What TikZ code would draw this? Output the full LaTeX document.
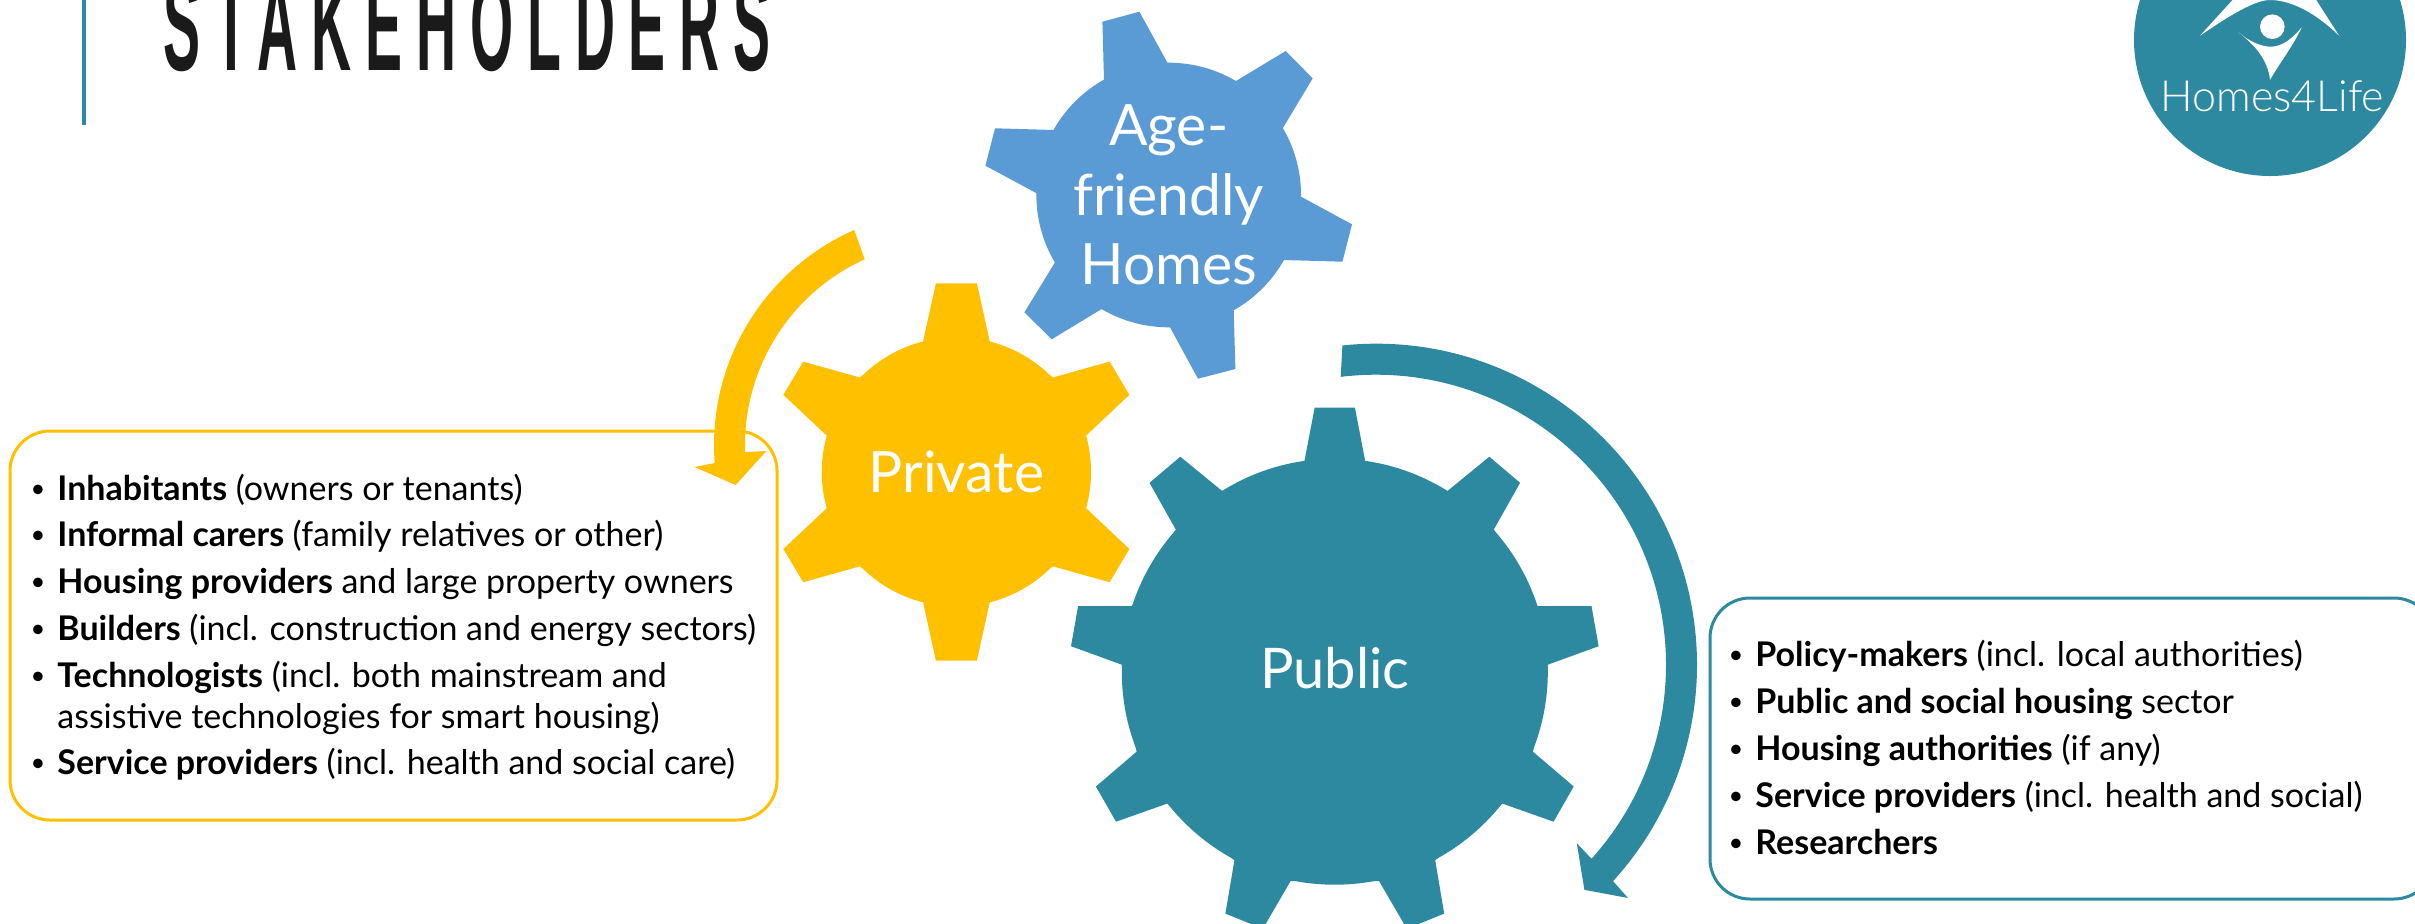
\documentclass[tikz,border=0pt]{standalone}
\usepackage{fontspec}
\usetikzlibrary{shapes.geometric}
\setmainfont{Lato}
\newfontfamily\titlefont{Liberation Sans}[FakeStretch=0.42,LetterSpace=10.5]
\newfontfamily\logofont{Lato Light}
\definecolor{tealc}{HTML}{2C89A0}
\definecolor{bluec}{HTML}{5B9BD5}
\definecolor{yellowc}{HTML}{FFC000}
\definecolor{inkc}{HTML}{1A1A1A}
\newcommand{\bul}{\llap{\raisebox{1.5pt}{\scalebox{0.75}{\textbullet}}\hspace{6pt}}}
\tikzset{
  itemline/.style={anchor=base west,inner sep=0pt,text=black,font=\fontsize{17}{20}\selectfont},
  geartext/.style={circle,inner sep=0pt,text=white,align=center},
  listbox/.style={rounded corners=20pt,line width=1.5pt,fill=white},
}
\begin{document}
\begin{tikzpicture}[x=0.5pt,y=0.5pt]
\clip (0,-923) rectangle (2415,0);
\fill[white] (0,-923) rectangle (2415,0);
% title
\fill[tealc] (82,0) rectangle (86,-125);
\node[anchor=base west,inner sep=0pt,text=inkc,font=\titlefont\bfseries\fontsize{66}{66}\selectfont] (title) at (163,-70) {STAKEHOLDERS};
% logo
\node[circle,fill=tealc,minimum size=136pt,inner sep=0pt] (logo) at (2270,-40) {};
\fill[white] (2200,-35.7) .. controls (2230,-15) and (2255,0) .. (2270,0) .. controls (2290,0) and (2315,-12) .. (2339.3,-36) -- (2313,5) -- (2237,5) -- cycle;
\node[circle,fill=white,minimum size=12.3pt,inner sep=0pt] (head) at (2272.3,-26.7) {};
\fill[white] (2238.3,-32.3) .. controls (2250,-42) and (2262,-47) .. (2272,-46.7) .. controls (2283,-46) and (2293,-38) .. (2301.7,-27.3) .. controls (2292,-48) and (2280,-62) .. (2270,-80) .. controls (2268,-60) and (2255,-45) .. cycle;
\node[anchor=base,inner sep=0pt,text=white,font=\logofont\fontsize{21.5}{21.5}\selectfont] (logotext) at (2272.5,-111.7) {Homes4Life};
% list boxes
\draw[listbox,draw=yellowc] (10,-431) rectangle (777,-820);
\draw[listbox,draw=tealc] (1710,-598) rectangle (2434,-899);
% blue gear
\fill[bluec,shift={(1168.7,-195)}] (-66.3,173.3) -- (-29.3,183.3) -- (-1.3,132.3) -- (67.3,114) -- (117,144) -- (144,116.7) -- (114,66.7) -- (132.3,-1.7) -- (183.3,-29.3) -- (173.7,-66.7) -- (115.3,-65) -- (65,-115) -- (66.7,-174) -- (29.3,-183.7) -- (1.3,-132.3) -- (-67,-114) -- (-117,-144.3) -- (-144.3,-117.3) -- (-113.7,-67.3) -- (-132,1.7) -- (-183.3,29.3) -- (-173.7,66.7) -- (-114.7,65) -- (-64.7,115) -- cycle;
\node[geartext,fill=bluec,minimum size=132.3pt,font=\fontsize{28.5}{34.75}\selectfont] (age) at (1168.7,-195) {Age-\\friendly\\Homes};
% yellow gear
\fill[yellowc,shift={(956.4,-471.9)}] (-33.4,130.1) -- (-20.5,188.6) -- (20.5,188.6) -- (33.4,130.1) -- (96.8,94.5) -- (153.2,110.3) -- (173,77.1) -- (129.8,36.4) -- (129.8,-36.4) -- (173,-77.1) -- (153.2,-110.3) -- (96.8,-94.5) -- (33.4,-130.1) -- (20.5,-188.6) -- (-20.5,-188.6) -- (-33.4,-130.1) -- (-96.8,-94.5) -- (-153.2,-110.3) -- (-173,-77.1) -- (-129.8,-36.4) -- (-129.8,36.4) -- (-173,77.1) -- (-153.2,110.3) -- (-96.8,94.5) -- cycle;
\node[geartext,fill=yellowc,minimum size=134.6pt,font=\fontsize{28.5}{34}\selectfont] (private) at (956.4,-471.9) {Private};
% teal gear
\fill[tealc,shift={(1334.8,-664.7)}] (-30.4,203.5) -- (-20.1,257.2) -- (20.1,257.2) -- (30.4,203.5) -- (112.5,173.6) -- (154.5,208) -- (185.3,181.9) -- (158.9,135) -- (202.7,58.6) -- (256.7,58.6) -- (263.8,18.5) -- (213,0) -- (198.2,-87) -- (238.9,-121.8) -- (218.8,-157) -- (167.4,-138.8) -- (100.4,-195.6) -- (109.4,-248.9) -- (72,-264) -- (44.2,-216.3) -- (-44.2,-216.3) -- (-72,-264) -- (-109.4,-248.9) -- (-100.4,-195.6) -- (-167.4,-138.8) -- (-218.8,-157) -- (-238.9,-121.8) -- (-198.2,-87) -- (-213,0) -- (-263.8,18.5) -- (-256.7,58.6) -- (-202.7,58.6) -- (-158.9,135) -- (-185.3,181.9) -- (-154.5,208) -- (-112.5,173.6) -- cycle;
\node[geartext,fill=tealc,minimum size=213pt,font=\fontsize{28}{34}\selectfont] (public) at (1334.8,-671.7) {\raisebox{3.5pt}{Public}};
% curved arrows
\fill[yellowc] ([shift={(949,-445)}]113.8:235) arc[start angle=113.8,end angle=184.4,radius=235] -- (694.5,-467) -- (735.6,-485) -- (766.4,-451) -- ([shift={(949,-445)}]182:204) arc[start angle=182,end angle=114.4,radius=204] -- cycle;
\fill[tealc] ([shift={(1376,-664.7)}]96:321) arc[start angle=96,end angle=-42.4,radius=321] -- (1628,-898) -- (1584.4,-889.8) -- (1576.8,-843.2) -- ([shift={(1376,-664.7)}]-42:290) arc[start angle=-42,end angle=97,radius=290] -- cycle;
% left list
\node[itemline] (y1) at (57,-500) {\bul\textbf{Inhabitants} (owners or tenants)};
\node[itemline] (y2) at (57,-546.4) {\bul\textbf{Informal carers} (family relatives or other)};
\node[itemline] (y3) at (57,-593.5) {\bul\textbf{Housing providers} and large property owners};
\node[itemline] (y4) at (57,-640) {\bul\textbf{Builders} (incl. construction and energy sectors)};
\node[itemline] (y5) at (57,-687.6) {\bul\textbf{Technologists} (incl. both mainstream and};
\node[itemline] (y6) at (57,-728) {assistive technologies for smart housing)};
\node[itemline] (y7) at (57,-774.6) {\bul\textbf{Service providers} (incl. health and social care)};
% right list
\node[itemline] (t1) at (1755,-666) {\bul\textbf{Policy-makers} (incl. local authorities)};
\node[itemline] (t2) at (1755,-713.3) {\bul\textbf{Public and social housing} sector};
\node[itemline] (t3) at (1755,-760.3) {\bul\textbf{Housing authorities} (if any)};
\node[itemline] (t4) at (1755,-807.7) {\bul\textbf{Service providers} (incl. health and social)};
\node[itemline] (t5) at (1755,-854.3) {\bul\textbf{Researchers}};
\end{tikzpicture}
\end{document}
